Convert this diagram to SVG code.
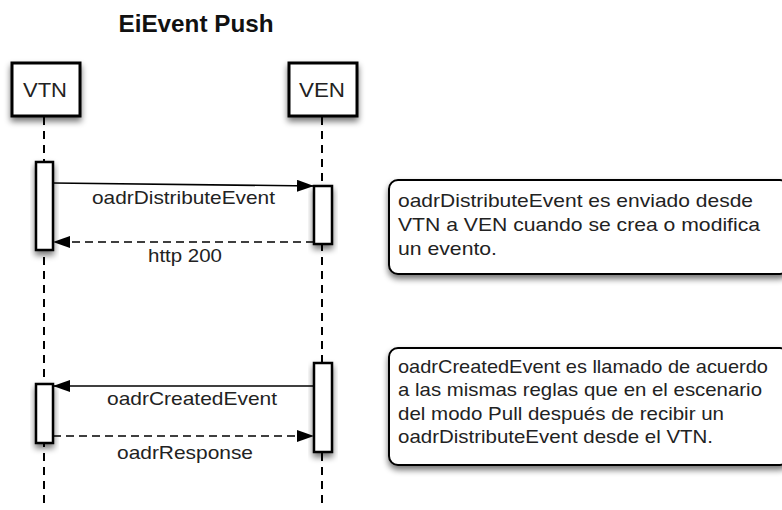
<svg xmlns="http://www.w3.org/2000/svg" width="782" height="510" viewBox="0 0 782 510">
<style>
.txt{font-family:"Liberation Sans",Arial,sans-serif;fill:#222;}
.title{font-size:24px;font-weight:bold;fill:#111;}
.actor{fill:#fff;stroke:#000;stroke-width:3;}
.actlbl{font-size:21px;}
.act{fill:#fff;stroke:#000;stroke-width:2.5;}
.life{stroke:#000;stroke-width:2;stroke-dasharray:8 6;fill:none;}
.msg{stroke:#000;stroke-width:1.6;fill:none;}
.dash{stroke-dasharray:8 5;}
.lbl{font-size:18.5px;}
.note{fill:#fff;stroke:#000;stroke-width:2;}
.ntxt{font-size:19px;}
</style>
<defs>
<filter id="sh" x="-30%" y="-30%" width="160%" height="170%">
<feGaussianBlur in="SourceAlpha" stdDeviation="3"/>
<feOffset dx="0" dy="4" result="b"/>
<feComponentTransfer><feFuncA type="linear" slope="0.55"/></feComponentTransfer>
<feMerge><feMergeNode/><feMergeNode in="SourceGraphic"/></feMerge>
</filter>
<marker id="ah" markerUnits="userSpaceOnUse" markerWidth="17" markerHeight="12" refX="17" refY="6" orient="auto">
<path d="M0,0 L17,6 L0,12 Z" fill="#000"/>
</marker>
</defs>
<rect width="782" height="510" fill="#fff"/>
<text class="txt title" x="196" y="32" text-anchor="middle" textLength="155" lengthAdjust="spacingAndGlyphs">EiEvent Push</text>

<g id="lifelines">
<line class="life" x1="44" y1="117" x2="44" y2="506"/>
<line class="life" x1="322" y1="117" x2="322" y2="506"/>
</g>

<g id="vtn">
<rect class="actor" x="12" y="63" width="68" height="53" filter="url(#sh)"/>
<text class="txt actlbl" x="45" y="97" text-anchor="middle" textLength="44" lengthAdjust="spacingAndGlyphs">VTN</text>
</g>
<g id="ven">
<rect class="actor" x="289" y="63" width="68" height="53" filter="url(#sh)"/>
<text class="txt actlbl" x="322" y="97" text-anchor="middle" textLength="46" lengthAdjust="spacingAndGlyphs">VEN</text>
</g>

<g id="activations">
<rect class="act" x="36" y="162" width="17" height="88" filter="url(#sh)"/>
<rect class="act" x="314" y="186" width="18" height="58" filter="url(#sh)"/>
<rect class="act" x="314" y="363" width="18" height="89" filter="url(#sh)"/>
<rect class="act" x="36" y="384" width="17" height="59" filter="url(#sh)"/>
</g>

<g id="connectors">
<line class="msg" x1="53" y1="183" x2="314" y2="186" marker-end="url(#ah)"/>
<line class="msg dash" x1="314" y1="242" x2="53" y2="242" marker-end="url(#ah)"/>
<line class="msg" x1="314" y1="386" x2="53" y2="386" stroke-width="2" marker-end="url(#ah)"/>
<line class="msg dash" x1="53" y1="436" x2="314" y2="436" marker-end="url(#ah)"/>
<text class="txt lbl" x="92" y="204" textLength="183" lengthAdjust="spacingAndGlyphs">oadrDistributeEvent</text>
<text class="txt lbl" x="148" y="262" textLength="74" lengthAdjust="spacingAndGlyphs">http 200</text>
<text class="txt lbl" x="107" y="405" textLength="170" lengthAdjust="spacingAndGlyphs">oadrCreatedEvent</text>
<text class="txt lbl" x="117" y="459" textLength="136" lengthAdjust="spacingAndGlyphs">oadrResponse</text>
</g>

<g id="note1">
<rect class="note" x="389" y="180" width="400" height="94" rx="9" filter="url(#sh)"/>
<text class="txt ntxt" x="398" y="207" textLength="355" lengthAdjust="spacingAndGlyphs">oadrDistributeEvent es enviado desde</text>
<text class="txt ntxt" x="398" y="231" textLength="362" lengthAdjust="spacingAndGlyphs">VTN a VEN cuando se crea o modifica</text>
<text class="txt ntxt" x="398" y="255" textLength="99" lengthAdjust="spacingAndGlyphs">un evento.</text>
</g>

<g id="note2">
<rect class="note" x="389" y="348" width="400" height="117" rx="9" filter="url(#sh)"/>
<text class="txt ntxt" x="398" y="373" textLength="370" lengthAdjust="spacingAndGlyphs">oadrCreatedEvent es llamado de acuerdo</text>
<text class="txt ntxt" x="398" y="396" textLength="364" lengthAdjust="spacingAndGlyphs">a las mismas reglas que en el escenario</text>
<text class="txt ntxt" x="398" y="420" textLength="326" lengthAdjust="spacingAndGlyphs">del modo Pull después de recibir un</text>
<text class="txt ntxt" x="398" y="443" textLength="315" lengthAdjust="spacingAndGlyphs">oadrDistributeEvent desde el VTN.</text>
</g>
</svg>
